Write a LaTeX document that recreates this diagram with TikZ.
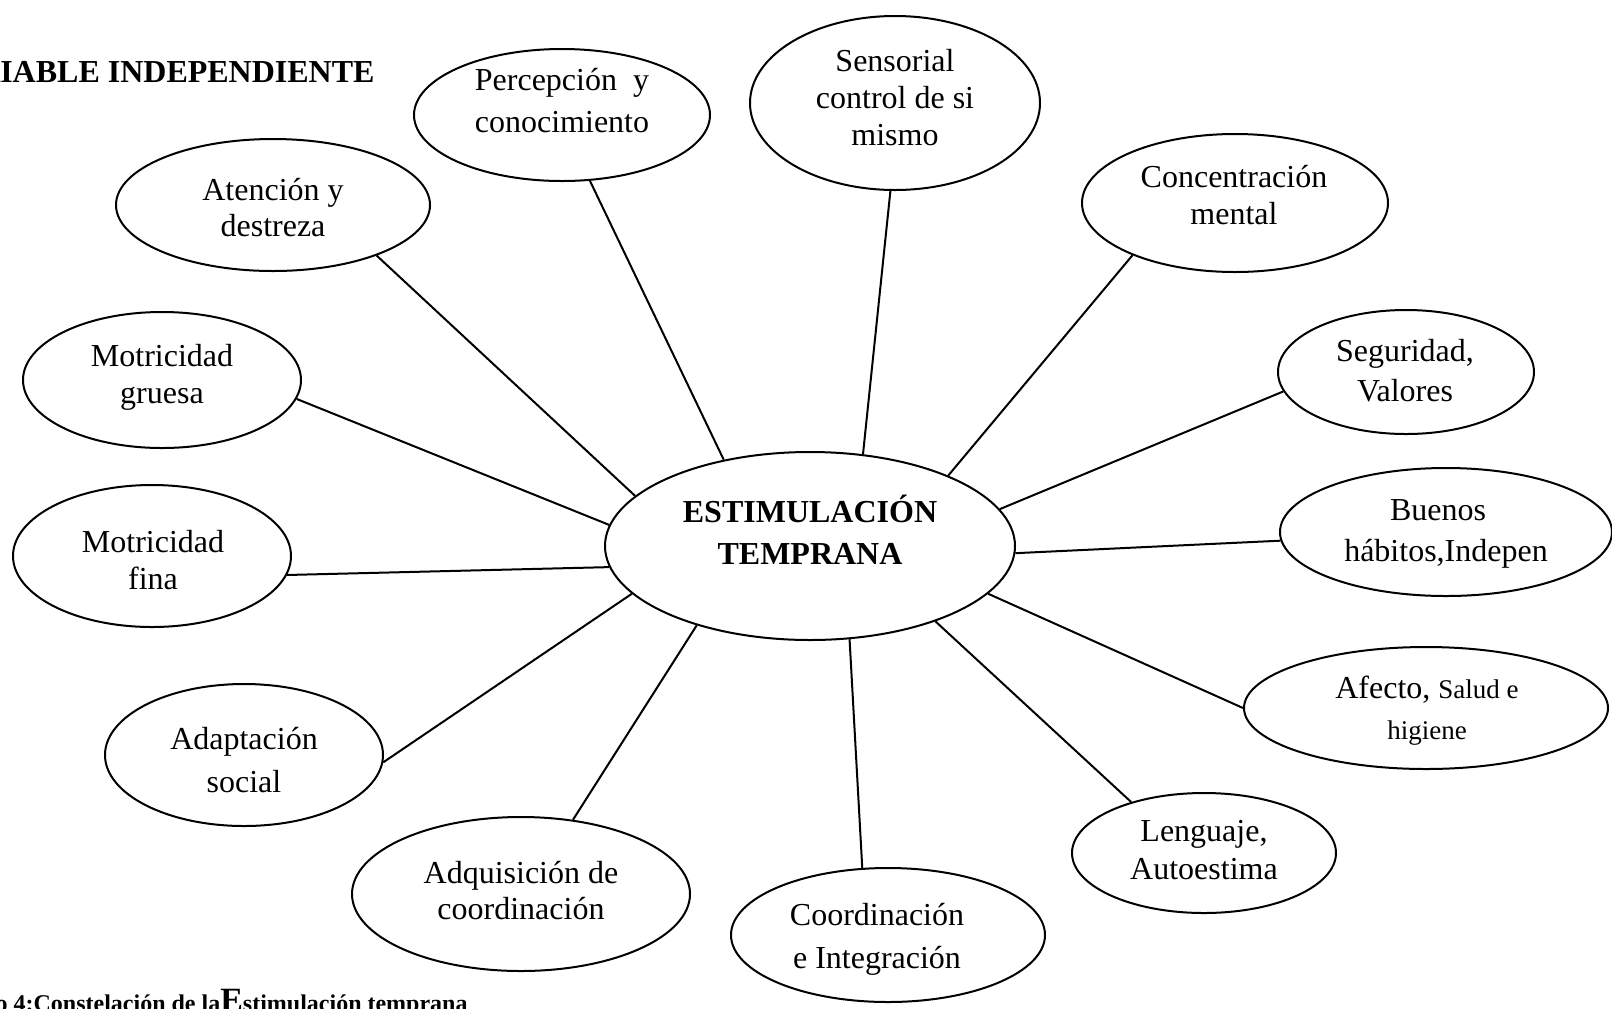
\documentclass[tikz,border=0pt]{standalone}
\usepackage{fontspec}
\setmainfont{Liberation Serif}
\usetikzlibrary{shapes.geometric}

\tikzset{
	burbuja/.style={draw, ellipse, line width=1pt, inner sep=0pt},
	texto/.style={inner sep=0pt, align=center, font=\fontsize{16}{18.5}\selectfont},
	rayo/.style={line width=1pt}
}

\begin{document}
\begin{tikzpicture}[x=0.5pt, y=-0.5pt]
	\useasboundingbox (0,0) rectangle (1612,1008);

	% Titulo y pie
	\node[anchor=base east, inner sep=0pt, font=\fontsize{16}{19}\selectfont\bfseries] (titulo) at (375, 82) {VARIABLE INDEPENDIENTE};
	\node[anchor=base east, inner sep=0pt, font=\fontsize{12}{14}\selectfont\bfseries] (pie) at (468, 1011) {Gráfico 4:Constelación de la{\fontsize{17}{17}\selectfont E}stimulación temprana};

	% Centro
	\node[burbuja, minimum width=205pt, minimum height=94pt] (centro) at (810, 546) {};
	\node[texto, font=\fontsize{16}{21}\selectfont\bfseries] (centro-t) at (810, 530) {ESTIMULACIÓN\\TEMPRANA};

	% Burbujas
	\node[burbuja, minimum width=148pt, minimum height=66pt] (perc) at (562, 115) {};
	\node[texto, font=\fontsize{16}{21}\selectfont] (perc-t) at (562, 101) {Percepción~~y\\conocimiento};
	\node[burbuja, minimum width=145pt, minimum height=87pt] (sens) at (895, 103) {};
	\node[texto] (sens-t) at (895, 98) {Sensorial\\control de si\\mismo};
	\node[burbuja, minimum width=153pt, minimum height=69pt] (conc) at (1235, 203) {};
	\node[texto] (conc-t) at (1234, 195) {Concentración\\mental};
	\node[burbuja, minimum width=128pt, minimum height=62pt] (segu) at (1406, 372) {};
	\node[texto, font=\fontsize{16}{20}\selectfont] (segu-t) at (1405, 371) {Seguridad,\\Valores};
	\node[burbuja, minimum width=166pt, minimum height=64pt] (buen) at (1446, 532) {};
	\node[texto, font=\fontsize{16}{20.5}\selectfont] (buen-t) at (1446, 534) {Buenos~~~\\hábitos,Indepen};
	\node[burbuja, minimum width=182pt, minimum height=61pt] (afec) at (1426, 708) {};
	\node[texto, font=\fontsize{16}{20.5}\selectfont] (afec-t) at (1427, 711) {Afecto, {\fontsize{13.5}{15}\selectfont Salud e}\\{\fontsize{13.5}{15}\selectfont higiene}};
	\node[burbuja, minimum width=132pt, minimum height=60pt] (leng) at (1204, 853) {};
	\node[texto, font=\fontsize{16}{19}\selectfont] (leng-t) at (1204, 850) {Lenguaje,\\Autoestima};
	\node[burbuja, minimum width=157pt, minimum height=67pt] (coor) at (888, 935) {};
	\node[texto, font=\fontsize{16}{21.5}\selectfont] (coor-t) at (877, 939) {Coordinación\\e Integración};
	\node[burbuja, minimum width=169pt, minimum height=77pt] (adqu) at (521, 894) {};
	\node[texto, font=\fontsize{16}{18}\selectfont] (adqu-t) at (521, 891) {Adquisición de\\coordinación};
	\node[burbuja, minimum width=139pt, minimum height=71pt] (adap) at (244, 755) {};
	\node[texto, font=\fontsize{16}{21.5}\selectfont] (adap-t) at (244, 760) {Adaptación\\social};
	\node[burbuja, minimum width=139pt, minimum height=71pt] (mfin) at (152, 556) {};
	\node[texto] (mfin-t) at (153, 560) {Motricidad\\fina};
	\node[burbuja, minimum width=139pt, minimum height=68pt] (mgru) at (162, 380) {};
	\node[texto] (mgru-t) at (162, 377) {Motricidad\\gruesa};
	\node[burbuja, minimum width=157pt, minimum height=66pt] (aten) at (273, 205) {};
	\node[texto, font=\fontsize{16}{18}\selectfont] (aten-t) at (273, 208) {Atención y\\destreza};

	% Rayos
	\foreach \a/\n/\b in {135/perc/-67, 60/sens/-93, 27/conc/-153, 11/segu/189, -2.5/buen/183,
		-15/afec/180, -31/leng/145, -67/coor/111, -145/adqu/55, 195/adap/-3,
		186/mfin/-8, 174/mgru/-8, 164/aten/-26}
		\draw[rayo] (centro.\a) -- (\n.\b);
\end{tikzpicture}
\end{document}
